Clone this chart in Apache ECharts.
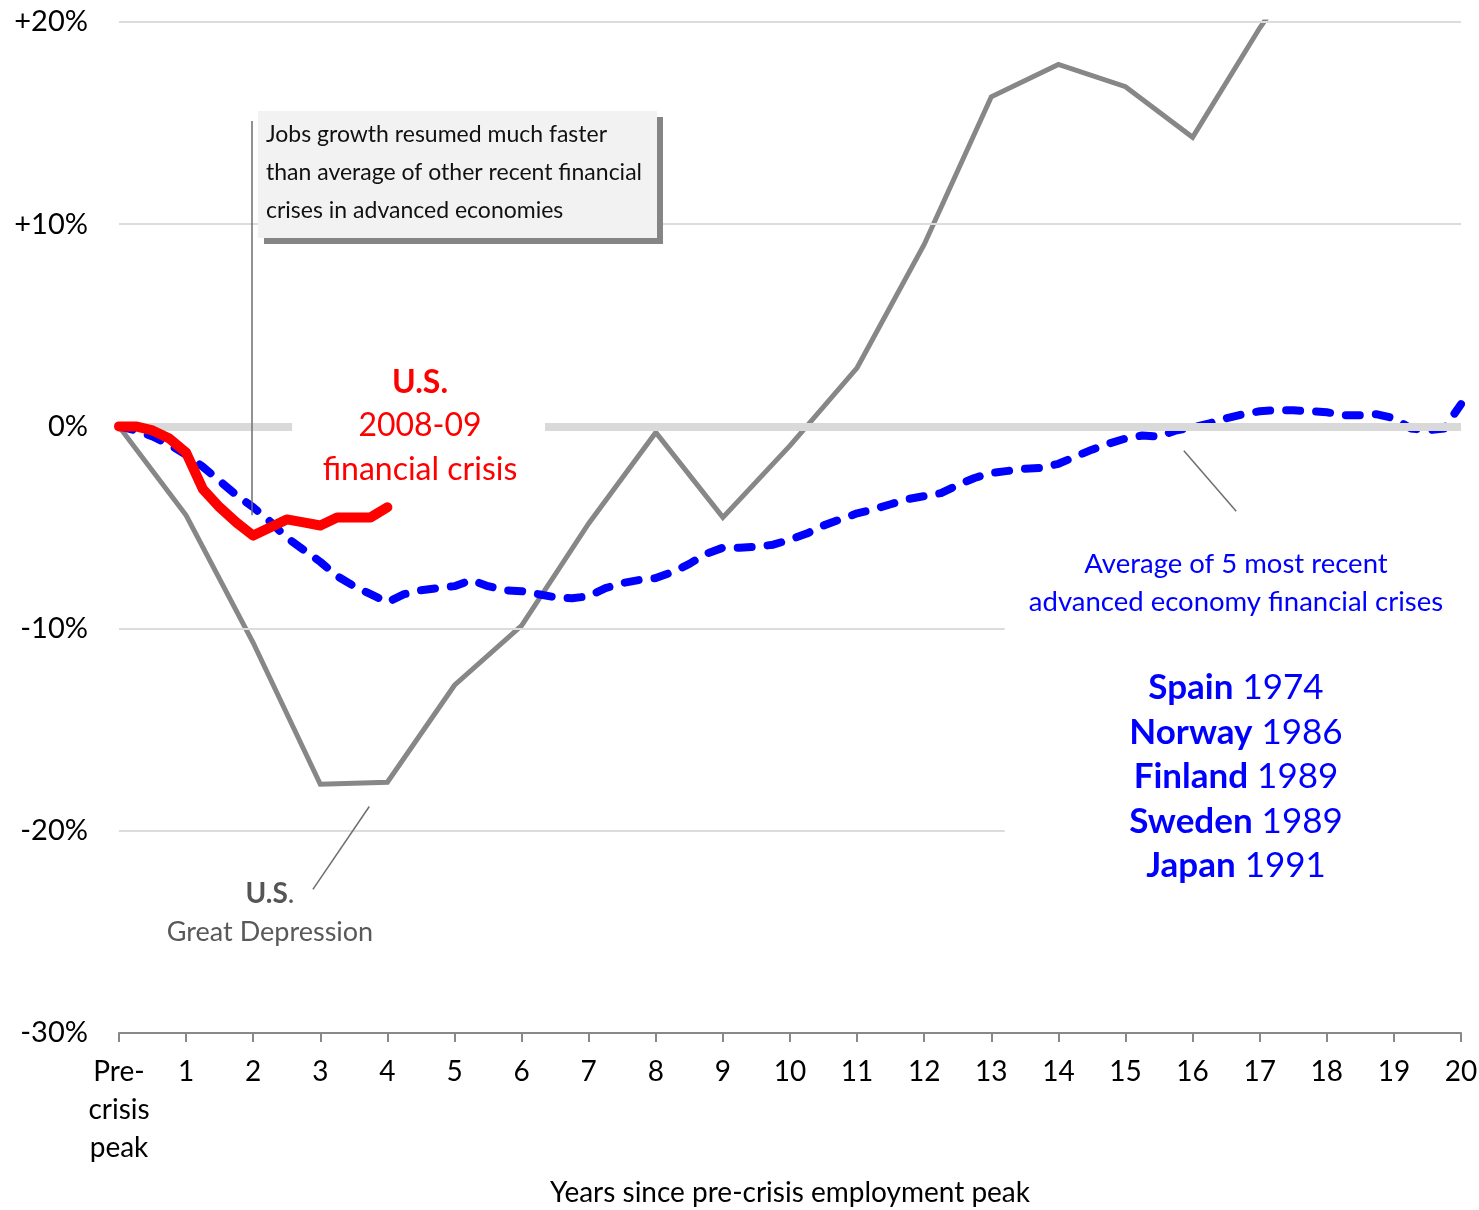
<!DOCTYPE html>
<html>
<head>
<meta charset="utf-8">
<script src="https://cdn.jsdelivr.net/npm/echarts@6/dist/echarts.min.js"></script>
<style>
  html, body { margin: 0; padding: 0; background: #fff; }
  #chart { width: 1479px; height: 1210px; }
</style>
</head>
<body>
<div id="chart"></div>
<script>
// U.S. Great Depression, annual (years since peak, % change in employment)
var gdYears = [0, 1, 2, 3, 4, 5, 6, 7, 8, 9, 10, 11, 12, 13, 14, 15, 16, 17, 18];
var gdValues = [0, -4.4, -10.7, -17.7, -17.6, -12.8, -9.85, -4.8, -0.3, -4.5, -0.95, 2.9, 9.0, 16.3, 17.9, 16.8, 14.3, 19.7, 24.5];

// average of 5 most recent advanced economy financial crises, quarterly
var avgValues = [
  0, -0.2, -0.5, -0.9, -1.4, -2.0, -2.7, -3.4, -4.0, -4.7, -5.5, -6.1, -6.7, -7.4, -7.9, -8.3,
  -8.7, -8.3, -8.1, -8.0, -7.9, -7.6, -7.9, -8.1, -8.15, -8.3, -8.45, -8.5, -8.4, -8.0, -7.75, -7.6,
  -7.5, -7.2, -6.8, -6.3, -6.0, -6.0, -5.95, -5.85, -5.6, -5.3, -4.9, -4.6, -4.3, -4.1, -3.85, -3.6,
  -3.45, -3.3, -2.9, -2.55, -2.3, -2.2, -2.1, -2.05, -1.85, -1.5, -1.15, -0.85, -0.6, -0.45, -0.5, -0.2,
  -0.05, 0.15, 0.4, 0.6, 0.75, 0.8, 0.8, 0.75, 0.7, 0.55, 0.55, 0.6, 0.4, -0.1, -0.2, -0.1,
  1.1
];

// U.S. 2008-09 financial crisis, quarterly
var usValues = [0, 0, -0.2, -0.6, -1.3, -3.1, -4.0, -4.75, -5.4, -5.0, -4.6, -4.75, -4.9, -4.5, -4.5, -4.5, -4.0];

var countries = [['Spain', '1974'], ['Norway', '1986'], ['Finland', '1989'], ['Sweden', '1989'], ['Japan', '1991']];

var FONT = 'Lato, "Liberation Sans", sans-serif';

function quarterly(vals) {
  return vals.map(function (v, i) { return [i / 4, v]; });
}

var chart = echarts.init(document.getElementById('chart'));

var gridLines = [
  [[0, 20], [20, 20]],
  [[0, 10], [20, 10]],
  [[0, -10], [13.2, -10]],
  [[0, -20], [13.2, -20]]
].map(function (p) {
  return [{ coord: p[0], lineStyle: { color: '#dcdcdc', width: 2, type: 'solid' } }, { coord: p[1] }];
});
// thick zero line, broken around the U.S. label
gridLines.push([{ coord: [0, 0], lineStyle: { color: '#d9d9d9', width: 8, type: 'solid' } }, { coord: [2.58, 0] }]);
gridLines.push([{ coord: [6.35, 0], lineStyle: { color: '#d9d9d9', width: 8, type: 'solid' } }, { coord: [20, 0] }]);

var leaders = [
  [[1.98, 15.1], [1.98, -4.4]],
  [[15.87, -1.2], [16.65, -4.2]],
  [[3.73, -18.8], [2.89, -22.9]]
].map(function (p) {
  return [{ coord: p[0], lineStyle: { color: '#6e6e6e', width: 1.5, type: 'solid' } }, { coord: p[1] }];
});

var countryLines = countries.map(function (c) { return '{b|' + c[0] + '}{r| ' + c[1] + '}'; }).join('\n');

var option = {
  backgroundColor: '#fff',
  animation: false,
  grid: { left: 119, right: 18, top: 22, bottom: 177, outerBoundsMode: 'none', containLabel: false },
  xAxis: {
    type: 'value',
    min: 0,
    max: 20,
    interval: 1,
    name: 'Years since pre-crisis employment peak',
    nameLocation: 'middle',
    nameGap: 146,
    nameTextStyle: { fontFamily: FONT, fontSize: 28, color: '#000' },
    axisLine: { show: true, onZero: false, lineStyle: { color: '#888', width: 2 } },
    axisTick: { show: true, length: 9, lineStyle: { color: '#888', width: 2 } },
    splitLine: { show: false },
    axisLabel: {
      margin: 20,
      fontFamily: FONT,
      fontSize: 28,
      lineHeight: 38,
      color: '#000',
      formatter: function (v) { return v === 0 ? 'Pre-\ncrisis\npeak' : String(v); }
    }
  },
  yAxis: {
    type: 'value',
    min: -30,
    max: 20,
    interval: 10,
    axisLine: { show: false },
    axisTick: { show: false },
    splitLine: { show: false },
    axisLabel: {
      margin: 31,
      fontFamily: FONT,
      fontSize: 29,
      color: '#000',
      formatter: function (v) { return (v > 0 ? '+' : '') + v + '%'; }
    }
  },
  series: [
    {
      type: 'line',
      name: 'grid',
      data: [],
      z: 1,
      silent: true,
      markLine: { silent: true, symbol: 'none', label: { show: false }, animation: false, data: gridLines.concat(leaders) }
    },
    {
      type: 'line',
      name: 'U.S. Great Depression',
      data: gdYears.map(function (x, i) { return [x, gdValues[i]]; }),
      showSymbol: false,
      clip: true,
      z: 3,
      lineStyle: { color: '#878787', width: 5, join: 'miter' }
    },
    {
      type: 'line',
      name: 'Average of 5 most recent',
      data: quarterly(avgValues),
      showSymbol: false,
      z: 4,
      lineStyle: { color: '#0000ff', width: 8, type: [14, 16], cap: 'round', join: 'round' }
    },
    {
      type: 'line',
      name: 'U.S. 2008-09',
      data: quarterly(usValues),
      showSymbol: false,
      z: 5,
      lineStyle: { color: '#ff0000', width: 10, cap: 'round', join: 'round' }
    }
  ],
  graphic: [
    { type: 'rect', shape: { x: 264, y: 117, width: 399, height: 127 }, style: { fill: '#858585' }, z: 10 },
    { type: 'rect', shape: { x: 258, y: 111, width: 399, height: 127 }, style: { fill: '#f2f2f2' }, z: 11 },
    {
      type: 'text', x: 266, y: 116, z: 12,
      style: {
        text: 'Jobs growth resumed much faster\nthan average of other recent financial\ncrises in advanced economies',
        font: '23px ' + FONT, fill: '#111', lineHeight: 38, textAlign: 'left', textVerticalAlign: 'top'
      }
    },
    {
      type: 'text', x: 420, y: 383, z: 12,
      style: { text: 'U.S.', font: 'bold 32px ' + FONT, fill: '#ff0000', textAlign: 'center', textVerticalAlign: 'middle' }
    },
    {
      type: 'text', x: 420, y: 448, z: 12,
      style: { text: '2008-09\nfinancial crisis', font: '32px ' + FONT, fill: '#ff0000', lineHeight: 44, textAlign: 'center', textVerticalAlign: 'middle' }
    },
    {
      type: 'text', x: 1236, y: 583, z: 12,
      style: { text: 'Average of 5 most recent\nadvanced economy financial crises', font: '27.5px ' + FONT, fill: '#0000ff', lineHeight: 38, textAlign: 'center', textVerticalAlign: 'middle' }
    },
    {
      type: 'text', x: 1236, y: 777, z: 12,
      style: {
        text: countryLines,
        textAlign: 'center', textVerticalAlign: 'middle',
        rich: {
          b: { fontFamily: FONT, fontWeight: 'bold', fontSize: 35, fill: '#0000ff', lineHeight: 44.5 },
          r: { fontFamily: FONT, fontSize: 35, fill: '#0000ff', lineHeight: 44.5 }
        }
      }
    },
    {
      type: 'text', x: 270, y: 913, z: 12,
      style: {
        text: '{b|U.S}{r|.}\n{g|Great Depression}',
        textAlign: 'center', textVerticalAlign: 'middle',
        rich: {
          b: { fontFamily: FONT, fontWeight: 'bold', fontSize: 28, fill: '#555', lineHeight: 39 },
          r: { fontFamily: FONT, fontSize: 28, fill: '#595959', lineHeight: 39 },
          g: { fontFamily: FONT, fontSize: 27, fill: '#595959', lineHeight: 39 }
        }
      }
    }
  ]
};

chart.setOption(option);
</script>
</body>
</html>
